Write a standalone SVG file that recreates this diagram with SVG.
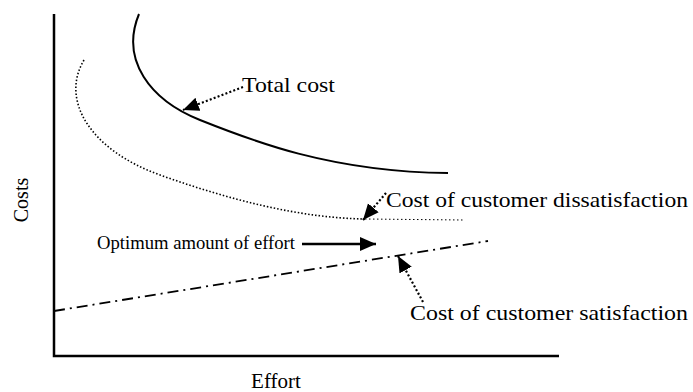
<svg xmlns="http://www.w3.org/2000/svg" width="693" height="392" viewBox="0 0 693 392">
<style>
  .lbl { font-family: "Liberation Serif", "Times New Roman", serif; fill: #000; }
  .big { font-size: 22px; }
  .axis { stroke: #000; stroke-width: 2.5; fill: none; }
  .lead { stroke: #000; stroke-width: 2.2; stroke-dasharray: 2 2.2; fill: none; }
</style>
<defs>
  <marker id="head" markerUnits="userSpaceOnUse" markerWidth="18" markerHeight="16" refX="16" refY="7" orient="auto">
    <path d="M0,0 L16,7 L0,14 Z" fill="#000"/>
  </marker>
</defs>
<rect width="693" height="392" fill="#fff"/>

<g id="axes">
  <path class="axis" d="M54,14 L54,356 L559,356"/>
  <text class="lbl" font-size="20" transform="translate(28,200) rotate(-90)" text-anchor="middle">Costs</text>
  <text class="lbl" font-size="21" x="276" y="388" text-anchor="middle">Effort</text>
</g>

<g id="total-cost">
  <path d="M139,14 C120,60 150,100 200,120 C250,140 330,172 448,173" fill="none" stroke="#000" stroke-width="2"/>
  <text class="lbl big" x="242" y="92" textLength="93" lengthAdjust="spacingAndGlyphs">Total cost</text>
</g>

<g id="dissatisfaction">
  <path d="M84,60 C60,100 90,150 160,175 C230,200 300,218 365,219" fill="none" stroke="#000" stroke-width="1.6" stroke-dasharray="1.5 2"/>
  <path d="M365,219 L463,220" fill="none" stroke="#000" stroke-width="1" stroke-dasharray="1.5 2.5"/>
  <text class="lbl big" x="386" y="207" textLength="302" lengthAdjust="spacingAndGlyphs">Cost of customer dissatisfaction</text>
</g>

<g id="satisfaction">
  <path d="M54,311 L488,241" fill="none" stroke="#000" stroke-width="1.8" stroke-dasharray="11 5 2 5"/>
  <text class="lbl big" x="410" y="320" textLength="278" lengthAdjust="spacingAndGlyphs">Cost of customer satisfaction</text>
</g>

<g id="optimum">
  <text class="lbl" font-size="18" x="97" y="249" textLength="198" lengthAdjust="spacingAndGlyphs">Optimum amount of effort</text>
</g>

<g id="connectors">
  <path class="lead" d="M243,87 L183,110" marker-end="url(#head)"/>
  <path class="lead" d="M386,193 L363,220" marker-end="url(#head)"/>
  <path class="lead" d="M423,302 L398,256" marker-end="url(#head)"/>
  <path d="M302,244 L376,244" fill="none" stroke="#000" stroke-width="2.5" marker-end="url(#head)"/>
</g>
</svg>
